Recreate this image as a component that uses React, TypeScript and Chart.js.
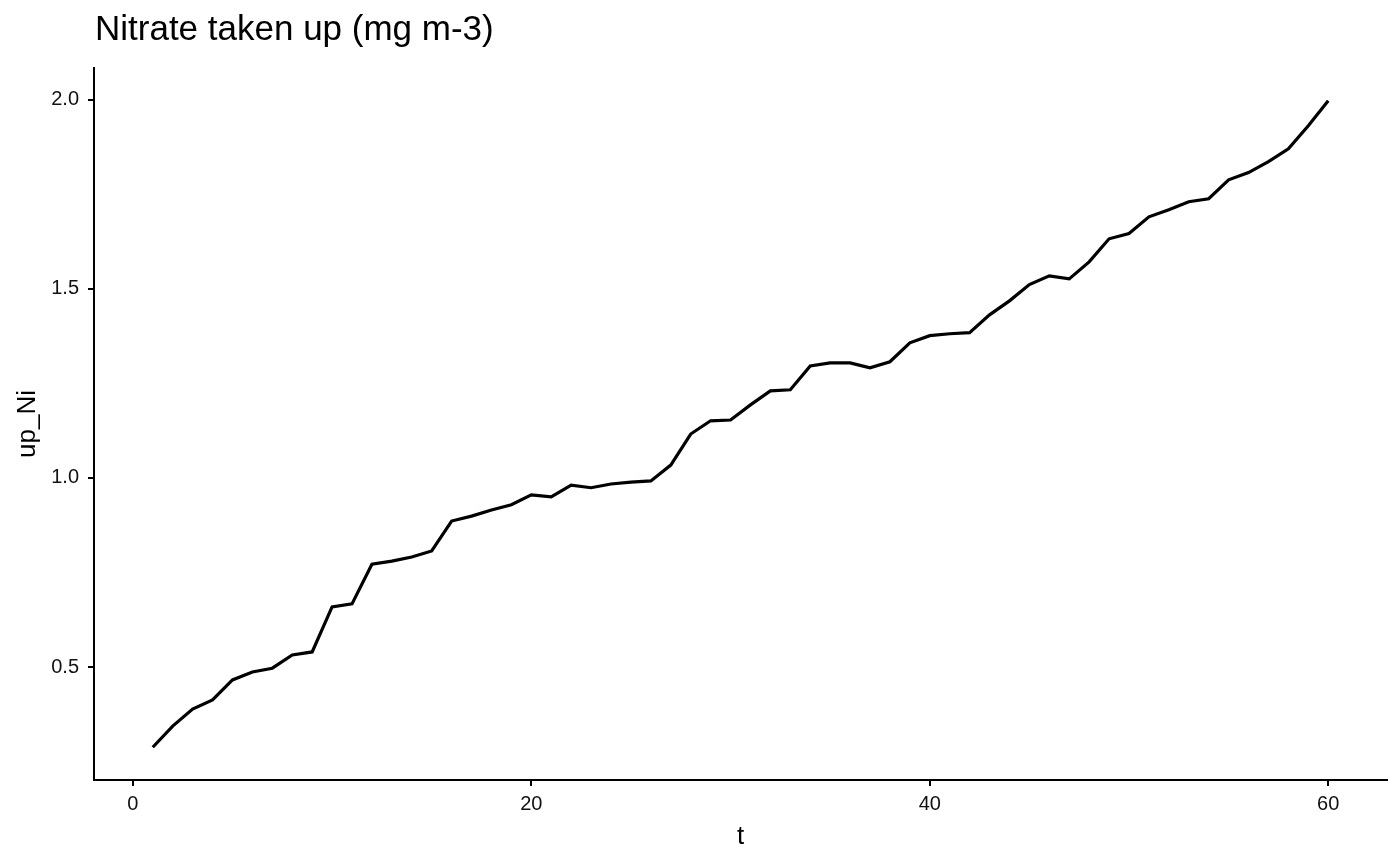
import React, { useEffect, useRef } from "react";
import { Chart, registerables } from "chart.js";

Chart.register(...registerables);

const tValues: number[] = Array.from({ length: 60 }, (_, i) => i + 1);
const upNi: number[] = [
  0.288, 0.344, 0.389, 0.413, 0.466, 0.487, 0.497, 0.532, 0.540, 0.659,
  0.667, 0.772, 0.780, 0.791, 0.807, 0.886, 0.899, 0.915, 0.929, 0.955,
  0.950, 0.981, 0.974, 0.984, 0.989, 0.992, 1.034, 1.116, 1.151, 1.153,
  1.193, 1.230, 1.233, 1.296, 1.304, 1.304, 1.291, 1.307, 1.357, 1.376,
  1.381, 1.384, 1.431, 1.468, 1.511, 1.534, 1.526, 1.571, 1.632, 1.646,
  1.690, 1.709, 1.730, 1.738, 1.788, 1.807, 1.836, 1.870, 1.931, 1.997,
];
const xTicks: number[] = [0, 20, 40, 60];
const yTicks: number[] = [0.5, 1.0, 1.5, 2.0];
const titleText = "Nitrate taken up (mg m-3)";
const xTitle = "t";
const yTitle = "up_Ni";

const FONT = "'Liberation Sans', Arial, sans-serif";

export default function App() {
  const ref = useRef<HTMLCanvasElement>(null);
  useEffect(() => {
    if (!ref.current) return;
    const textPlugin = {
      id: "ggText",
      afterDraw(chart: any) {
        const ctx = chart.ctx;
        const ca = chart.chartArea;
        ctx.save();
        ctx.fillStyle = "#000";
        ctx.textBaseline = "alphabetic";
        ctx.textAlign = "left";
        ctx.font = `35px ${FONT}`;
        ctx.fillText(titleText, ca.left + 1, 40);
        ctx.font = `26px ${FONT}`;
        ctx.textAlign = "center";
        ctx.fillText(xTitle, (ca.left + ca.right) / 2, 844);
        ctx.translate(35, (ca.top + ca.bottom) / 2);
        ctx.rotate(-Math.PI / 2);
        ctx.fillText(yTitle, 0, 0);
        ctx.restore();
      },
    };
    const chart = new Chart(ref.current, {
      type: "line",
      data: {
        datasets: [
          {
            data: tValues.map((t, i) => ({ x: t, y: upNi[i] })),
            borderColor: "#000",
            borderWidth: 3.2,
            pointRadius: 0,
            tension: 0,
            fill: false,
          },
        ],
      },
      options: {
        animation: false,
        responsive: false,
        layout: { padding: { left: 0, top: 68, right: 13, bottom: 0 } },
        plugins: { legend: { display: false }, tooltip: { enabled: false }, title: { display: false } },
        scales: {
          x: {
            type: "linear",
            min: -1.95,
            max: 62.95,
            afterBuildTicks: (s: any) => { s.ticks = xTicks.map((v) => ({ value: v })); },
            afterFit: (s: any) => { s.height = 85; },
            border: { display: true, color: "#000", width: 2 },
            grid: { display: true, drawOnChartArea: false, tickLength: 6, tickColor: "#000", lineWidth: 2 },
            ticks: { color: "#111", font: { family: FONT, size: 20 }, padding: 6, maxRotation: 0 },
            title: { display: false },
          },
          y: {
            type: "linear",
            min: 0.2015,
            max: 2.0835,
            afterBuildTicks: (s: any) => { s.ticks = yTicks.map((v) => ({ value: v })); },
            afterFit: (s: any) => { s.width = 94; },
            border: { display: true, color: "#000", width: 2 },
            grid: { display: true, drawOnChartArea: false, tickLength: 6, tickColor: "#000", lineWidth: 2 },
            ticks: {
              color: "#111",
              font: { family: FONT, size: 20 },
              padding: 9,
              callback: (v: any) => Number(v).toFixed(1),
            },
            title: { display: false },
          },
        },
      },
      plugins: [textPlugin],
    });
    return () => chart.destroy();
  }, []);
  return (
    <div style={{ position: "fixed", left: 0, top: 0, width: 1400, height: 865, background: "#fff" }}>
      <canvas ref={ref} width={1400} height={865} style={{ width: 1400, height: 865 }} />
    </div>
  );
}
